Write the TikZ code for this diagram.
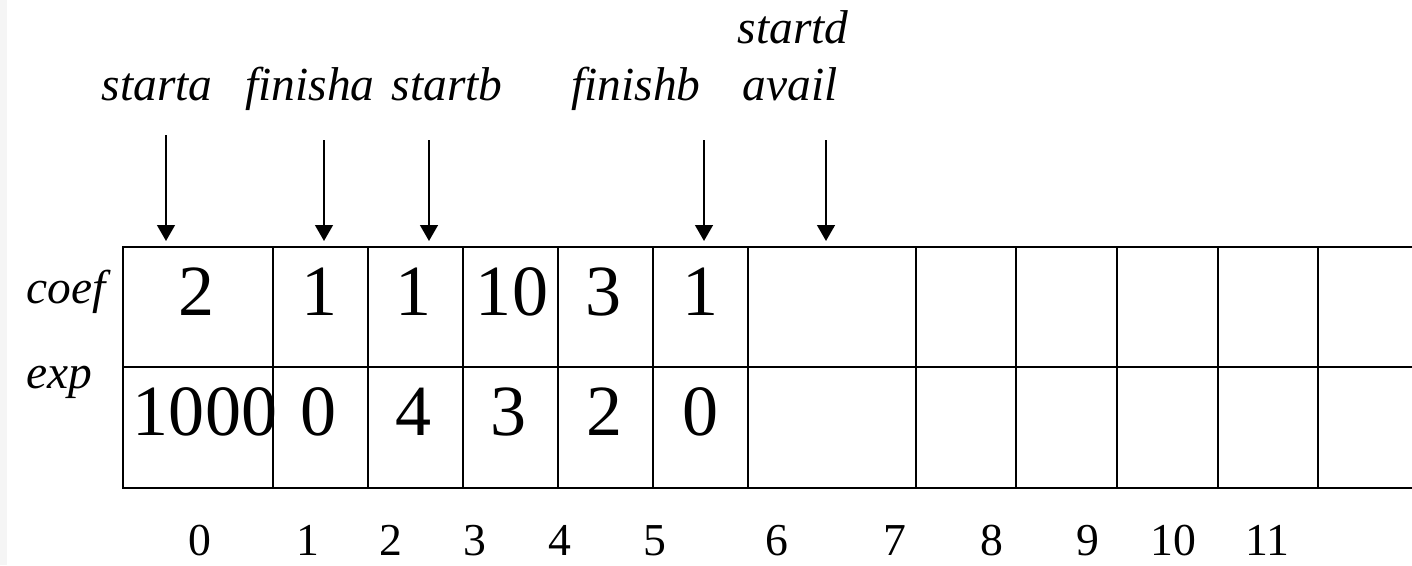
\documentclass[tikz,border=0pt]{standalone}
\usepackage{fontspec}
\setmainfont{Liberation Serif}
\usetikzlibrary{arrows.meta}

\begin{document}
\begin{tikzpicture}[
    lbl/.style={font=\fontsize{13.5}{16}\selectfont\itshape, anchor=base},
    val/.style={font=\fontsize{20.5}{24}\selectfont, anchor=base},
    idx/.style={font=\fontsize{13}{15}\selectfont, anchor=base},
    ptr/.style={line width=0.6pt, -{Triangle[width=5pt,length=4.5pt]}, shorten >=0.6mm},
    frame/.style={line width=0.8pt}
]
    \useasboundingbox (0,0) rectangle (14.12,5.65);
    \fill[black!4] (0,0) rectangle (0.07,5.65);

    % array frame
    \coordinate (TL) at (1.23,3.18);
    \coordinate (ML) at (1.23,1.98);
    \coordinate (BL) at (1.23,0.77);
    \draw[frame] (14.2,3.18) -- (TL) -- (BL) -- (14.2,0.77);
    \draw[frame] (ML) -- (14.2,1.98);
    \foreach \x in {2.73,3.68,4.63,5.58,6.53,7.48,9.16,10.16,11.17,12.18,13.18}
        \draw[frame] (\x,3.18) -- (\x,0.77);

    % row names
    \node[lbl, anchor=base west] (coef) at (0.14,2.62) {coef};
    \node[lbl, anchor=base west] (exp) at (0.14,1.77) {exp};

    % contents
    \foreach \x/\v [count=\i from 0] in {1.97/2, 3.20/1, 4.14/1, 5.12/10, 6.04/3, 7.00/1}
        \node[val] (c\i) at (\x,2.50) {\v};
    \foreach \x/\v [count=\i from 0] in {2.05/1000, 3.19/0, 4.14/4, 5.09/3, 6.05/2, 7.00/0}
        \node[val] (e\i) at (\x,1.30) {\v};

    % indices
    \foreach \x [count=\i from 0] in {2.00,3.08,3.91,4.75,5.60,6.55,7.77,8.95,9.92,10.88,11.73,12.67} {
        \pgfmathtruncatemacro\k{\i}
        \node[idx] (i\i) at (\x,0.10) {\k};
    }

    % pointer names
    \node[lbl] (starta) at (1.57,4.65) {starta};
    \node[lbl] (finisha) at (3.10,4.65) {finisha};
    \node[lbl] (startb) at (4.47,4.65) {startb};
    \node[lbl] (finishb) at (6.36,4.65) {finishb};
    \node[lbl] (avail) at (7.90,4.65) {avail};
    \node[lbl] (startd) at (7.93,5.22) {startd};

    % pointers
    \foreach \p/\x/\y in {pa/1.66/4.30, pb/3.24/4.25, pc/4.29/4.25, pd/7.04/4.25, pe/8.26/4.25} {
        \coordinate (\p) at (\x,\y);
        \draw[ptr] (\p) -- (\p |- TL);
    }
\end{tikzpicture}
\end{document}
